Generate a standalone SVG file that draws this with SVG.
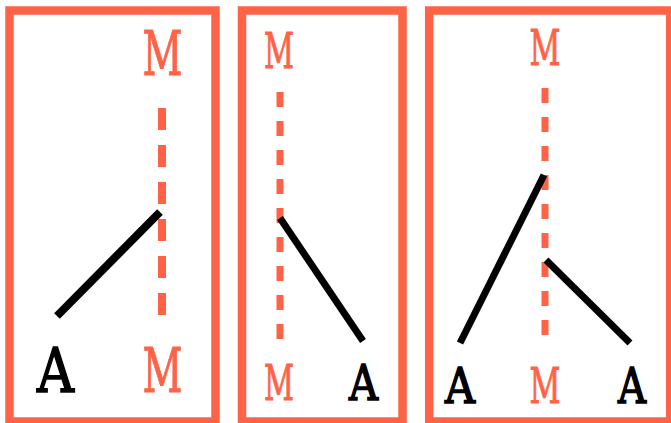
<svg xmlns="http://www.w3.org/2000/svg" width="671" height="423" viewBox="0 0 671 423">
<style>
.frame{fill:none;stroke:#ff6347;stroke-width:8.5}
.dash{stroke:#ff6347;stroke-linecap:butt}
.edge{stroke:#000;stroke-linecap:butt}
.lbl{font-family:"DejaVu Serif",serif;text-anchor:middle}
.m{fill:#ff6347;stroke:#ff6347;stroke-width:1}
.a{fill:#000;stroke:#000;stroke-width:1.6}
.big{font-size:62px}
.small{font-size:48px}
</style>
<rect width="671" height="423" fill="#fff"/>
<g id="panel1">
<rect class="frame" x="9.5" y="10.5" width="206" height="411"/>
<g id="connectors1">
<line class="dash" x1="162" y1="108" x2="162" y2="318" stroke-width="8" stroke-dasharray="22 15"/>
<line class="edge" x1="160" y1="212" x2="57" y2="316" stroke-width="8"/>
</g>
<g id="p1-M-top"><text class="lbl m big" x="162.5" y="75" textLength="40" lengthAdjust="spacingAndGlyphs">M</text></g>
<g id="p1-A"><text class="lbl a big" x="55.5" y="392" textLength="37" lengthAdjust="spacingAndGlyphs">A</text></g>
<g id="p1-M-bottom"><text class="lbl m big" x="162.5" y="392" textLength="40" lengthAdjust="spacingAndGlyphs">M</text></g>
</g>
<g id="panel2">
<rect class="frame" x="242" y="10.5" width="160.5" height="411"/>
<g id="connectors2">
<line class="dash" x1="280" y1="92" x2="280" y2="343" stroke-width="7" stroke-dasharray="15 14"/>
<line class="edge" x1="280" y1="218" x2="363" y2="341" stroke-width="7"/>
</g>
<g id="p2-M-top"><text class="lbl m small" x="279" y="68" textLength="30" lengthAdjust="spacingAndGlyphs">M</text></g>
<g id="p2-M-bottom"><text class="lbl m small" x="279" y="400" textLength="30" lengthAdjust="spacingAndGlyphs">M</text></g>
<g id="p2-A"><text class="lbl a small" x="363.5" y="400" textLength="29" lengthAdjust="spacingAndGlyphs">A</text></g>
</g>
<g id="panel3">
<rect class="frame" x="429.2" y="10.5" width="241" height="411"/>
<g id="connectors3">
<line class="dash" x1="545" y1="88" x2="545" y2="347" stroke-width="7" stroke-dasharray="15 14"/>
<line class="edge" x1="544" y1="175" x2="460" y2="343" stroke-width="7"/>
<line class="edge" x1="546" y1="260" x2="630" y2="343" stroke-width="7"/>
</g>
<g id="p3-M-top"><text class="lbl m small" x="545" y="65" textLength="31" lengthAdjust="spacingAndGlyphs">M</text></g>
<g id="p3-A-left"><text class="lbl a small" x="460" y="403" textLength="30" lengthAdjust="spacingAndGlyphs">A</text></g>
<g id="p3-M-bottom"><text class="lbl m small" x="545" y="403" textLength="31" lengthAdjust="spacingAndGlyphs">M</text></g>
<g id="p3-A-right"><text class="lbl a small" x="632" y="403" textLength="28" lengthAdjust="spacingAndGlyphs">A</text></g>
</g>
</svg>
